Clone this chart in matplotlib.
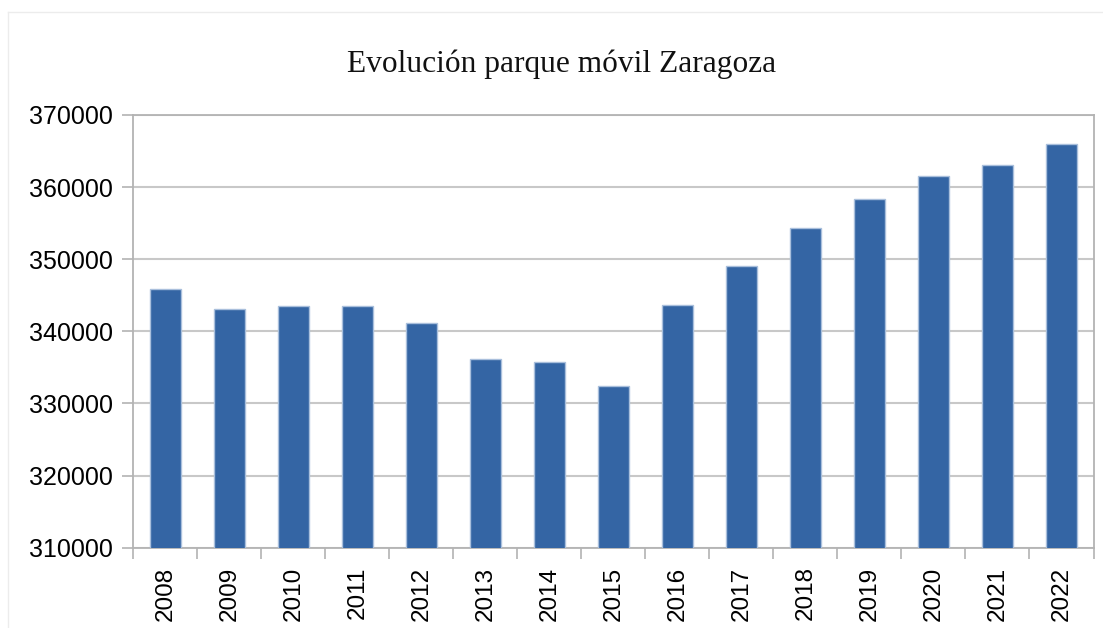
import matplotlib
matplotlib.use("Agg")
import matplotlib.pyplot as plt
from matplotlib.lines import Line2D
import numpy as np

years = ["2008", "2009", "2010", "2011", "2012", "2013", "2014", "2015",
         "2016", "2017", "2018", "2019", "2020", "2021", "2022"]
values = [345900, 343150, 343500, 343450, 341200, 336100, 335800, 332400,
          343700, 349100, 354400, 358300, 361500, 363100, 366000]
y_ticks = [310000, 320000, 330000, 340000, 350000, 360000, 370000]
title = "Evolución parque móvil Zaragoza"

W, H = 1103, 628
fig = plt.figure(figsize=(W / 100, H / 100), dpi=100)
ax = fig.add_axes([133.3 / W, 1 - 547.7 / H, (1093.5 - 133.3) / W, (547.7 - 115) / H])

x = np.arange(len(years))
ax.bar(x, values, width=0.49, color="#3465a4", edgecolor="#a9bfdc",
       linewidth=1.0, zorder=3)

ax.set_xlim(-0.5, len(years) - 0.5)
ax.set_ylim(310000, 370000)
ax.set_yticks(y_ticks)
ax.set_yticklabels([str(v) for v in y_ticks], fontsize=18,
                   family=["Liberation Sans", "DejaVu Sans"])
ax.set_xticks(x)
ax.set_xticklabels(years, rotation=90, fontsize=17.5,
                   family=["Liberation Sans", "DejaVu Sans"])
ax.set_xticks(np.arange(len(years) + 1) - 0.5, minor=True)

ax.tick_params(axis="x", which="major", length=0, pad=13.5)
ax.tick_params(axis="x", which="minor", length=8, width=1.2, color="#b3b3b3")
ax.tick_params(axis="y", which="major", length=7.6, width=1.2, color="#b3b3b3", pad=6.8)

ax.grid(axis="y", color="#c8c8c8", linewidth=1.5, zorder=0)
ax.set_axisbelow(True)
for s in ax.spines.values():
    s.set_color("#b3b3b3")
    s.set_linewidth(1.3)

fig.text(562 / W, 1 - 64 / H, title, ha="center", va="center", fontsize=22.6,
         family=["Liberation Serif", "DejaVu Serif"], color="#111111")

# faint outer frame
fig.add_artist(Line2D([8 / W, 1102 / W], [1 - 12 / H, 1 - 12 / H],
                      transform=fig.transFigure, color="#ececec", linewidth=1))
fig.add_artist(Line2D([8 / W, 8 / W], [1 - 12 / H, 0],
                      transform=fig.transFigure, color="#ececec", linewidth=1))

fig.savefig("out.png", dpi=100)
